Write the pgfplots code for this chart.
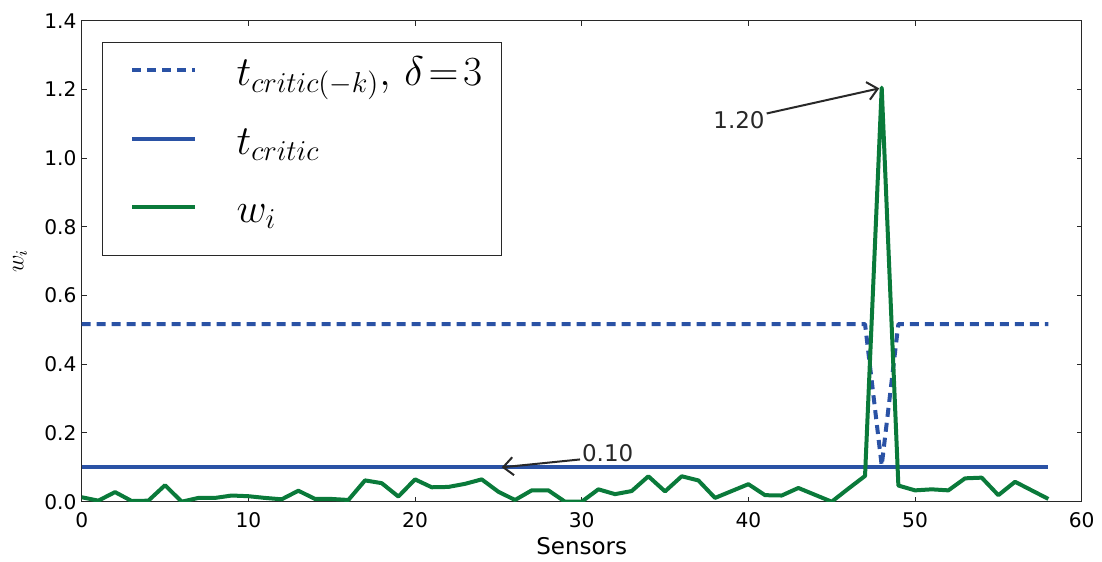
\documentclass[border=0pt]{standalone}
\usepackage{fontspec}
\setmainfont{DejaVu Sans}
\usepackage{pgfplots}
\pgfplotsset{compat=1.18}
\usetikzlibrary{arrows.meta}
\definecolor{cblue}{RGB}{42,82,165}
\definecolor{cgreen}{RGB}{10,122,58}
\definecolor{axgray}{RGB}{40,40,40}
\begin{document}
\begin{tikzpicture}
\begin{axis}[
  at={(0,0)}, anchor=south west,
  scale only axis, width=500pt, height=240.5pt,
  xmin=0, xmax=60, ymin=0, ymax=1.4,
  xtick={0,10,20,30,40,50,60},
  ytick={0,0.2,0.4,0.6,0.8,1.0,1.2,1.4},
  /pgf/number format/assume math mode=true,
  ticklabel style={font=\fontsize{10.1}{12}\selectfont, inner sep=0pt},
  xticklabel style={yshift=-5pt},
  yticklabel style={xshift=-2.4pt, /pgf/number format/fixed, /pgf/number format/fixed zerofill, /pgf/number format/precision=1},
  tick align=inside, major tick length=2.5pt,
  tick style={axgray, line width=0.5pt},
  axis line style={axgray, line width=0.6pt},
  xlabel={Sensors},
  ylabel={$w_i$},
  xlabel style={font=\fontsize{11.5}{13}\selectfont, at={(axis description cs:0.5,-0.092)}, anchor=center},
  ylabel style={font=\fontsize{12}{14}\selectfont, at={(axis description cs:-0.0617,0.5)}, anchor=center},
  legend cell align=left,
  legend image code/.code={\path (-4.3pt,0pt); \draw[#1] (0pt,5pt) -- (31.2pt,5pt);},
  legend style={
    at={(0.0203,0.9563)}, anchor=north west,
    draw=axgray, line width=0.6pt,
    font=\fontsize{22.3}{26}\selectfont,
    inner xsep=9.5pt, inner ysep=1.95pt,
    nodes={inner sep=0pt, text height=19.7pt, text depth=14.55pt},
  },
]
\addplot[cblue, line width=2pt, line join=round, dash pattern=on 4.5pt off 3pt] coordinates {
(0,0.517) (47,0.517) (48,0.105) (49,0.517) (58,0.517)};
\addlegendentry{\hspace{20pt}$t_{critic(-k)},\,\delta\!=\!3$}
\addplot[cblue, line width=2pt] coordinates {(0,0.1) (58,0.1)};
\addlegendentry{\hspace{20pt}$t_{critic}$}
\addplot[cgreen, line width=2pt, line join=round] coordinates {
(0,0.013) (1,0.003) (2,0.028) (3,0.002) (4,0.003) (5,0.048) (6,0.0) (7,0.011) (8,0.011) (9,0.018)
(10,0.016) (11,0.011) (12,0.007) (13,0.032) (14,0.008) (15,0.008) (16,0.005) (17,0.062) (18,0.054) (19,0.015)
(20,0.065) (21,0.042) (22,0.043) (23,0.052) (24,0.065) (25,0.029) (26,0.005) (27,0.033) (28,0.033) (29,0.0)
(30,0.0) (31,0.036) (32,0.022) (33,0.031) (34,0.074) (35,0.030) (36,0.074) (37,0.062) (38,0.011) (39,0.031)
(40,0.051) (41,0.019) (42,0.018) (43,0.040) (44,0.020) (45,0.0) (46,0.038) (47,0.075) (48,1.205) (49,0.047)
(50,0.033) (51,0.036) (52,0.033) (53,0.068) (54,0.070) (55,0.019) (56,0.058) (57,0.033) (58,0.008)};
\addlegendentry{\hspace{20pt}$w_i$}
\draw[axgray, line width=1pt, -{Straight Barb[length=5pt,width=9pt]}] (axis cs:41.1,1.13) -- (axis cs:47.85,1.203);
\node[anchor=east, inner sep=0pt, font=\fontsize{11.5}{13}\selectfont, text=axgray] at (axis cs:41.0,1.111) {1.20};
\draw[axgray, line width=1pt, -{Straight Barb[length=5pt,width=9pt]}] (axis cs:29.9,0.123) -- (axis cs:25.2,0.10);
\node[anchor=west, inner sep=0pt, font=\fontsize{11.5}{13}\selectfont, text=axgray] at (axis cs:30.0,0.141) {0.10};
\end{axis}
\path[use as bounding box] ([shift={(-40.85pt,-29.15pt)}]current axis.south west) rectangle ([shift={(10.15pt,10.35pt)}]current axis.north east);
\end{tikzpicture}
\end{document}
